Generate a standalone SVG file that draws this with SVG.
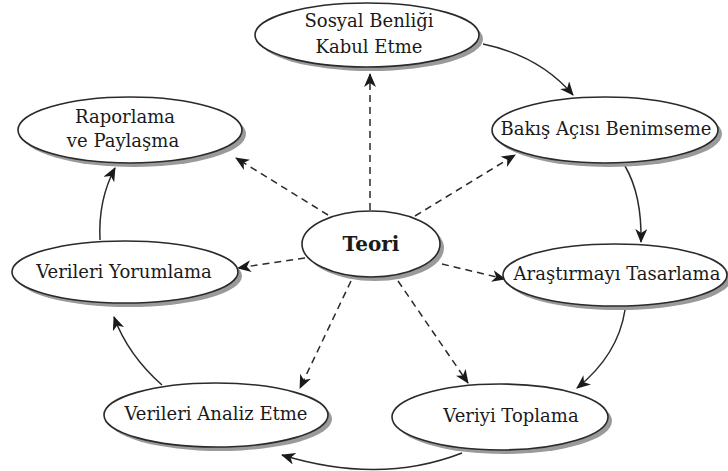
<svg xmlns="http://www.w3.org/2000/svg" width="728" height="471" viewBox="0 0 728 471">
<defs>
<marker id="ah" markerUnits="userSpaceOnUse" markerWidth="14" markerHeight="12" viewBox="0 0 14 12" refX="13" refY="6" orient="auto">
<path d="M0,0 L14,6 L0,12 L4,6 Z" fill="#1a1a1a"/>
</marker>
</defs>
<style>
.shadow{fill:#9a9a9a;stroke:none}
.node{fill:#fff;stroke:#2a2a2a;stroke-width:1.6}
.lbl{font-family:"DejaVu Serif","Liberation Serif",serif;font-size:18px;fill:#1a1a1a;text-anchor:middle}
.bold{font-weight:bold;font-size:20px}
.solid{fill:none;stroke:#2a2a2a;stroke-width:1.5;marker-end:url(#ah)}
.dash{fill:none;stroke:#2a2a2a;stroke-width:1.5;stroke-dasharray:7 5;marker-end:url(#ah)}
</style>
<rect width="728" height="471" fill="#fff"/>
<g id="connectors">
<path class="solid" d="M483,44 Q540,56 573,95"/>
<path class="solid" d="M625,166 Q642,195 641,242"/>
<path class="solid" d="M625,310 Q618,355 577,388"/>
<path class="solid" d="M462,453 Q380,485 282,455"/>
<path class="solid" d="M162,385 Q128,355 114,317"/>
<path class="solid" d="M100,240 Q98,200 115,168"/>
<path class="dash" d="M370,210 L370,74"/>
<path class="dash" d="M328,215 L236,158"/>
<path class="dash" d="M415,216 L515,155"/>
<path class="dash" d="M305,258 L238,268"/>
<path class="dash" d="M442,264 L505,279"/>
<path class="dash" d="M398,281 L468,383"/>
<path class="dash" d="M351,281 L300,388"/>
</g>
<g id="sosyal">
<ellipse class="shadow" cx="371" cy="39" rx="112" ry="32"/>
<ellipse class="node" cx="367" cy="35" rx="112" ry="32"/>
<text class="lbl" x="369" y="27">Sosyal Benliği</text>
<text class="lbl" x="369" y="53">Kabul Etme</text>
</g>
<g id="raporlama">
<ellipse class="shadow" cx="134" cy="134" rx="112" ry="33"/>
<ellipse class="node" cx="130" cy="130" rx="112" ry="33"/>
<text class="lbl" x="125" y="123">Raporlama</text>
<text class="lbl" x="123" y="147">ve Paylaşma</text>
</g>
<g id="bakis">
<ellipse class="shadow" cx="609" cy="134" rx="113" ry="33"/>
<ellipse class="node" cx="605" cy="130" rx="113" ry="33"/>
<text class="lbl" x="606" y="135">Bakış Açısı Benimseme</text>
</g>
<g id="teori">
<ellipse class="shadow" cx="375" cy="248" rx="69" ry="33"/>
<ellipse class="node" cx="371" cy="244" rx="69" ry="33"/>
<text class="lbl bold" x="371" y="251">Teori</text>
</g>
<g id="arastirma">
<ellipse class="shadow" cx="619" cy="279" rx="112" ry="31"/>
<ellipse class="node" cx="615" cy="275" rx="112" ry="31"/>
<text class="lbl" x="617" y="280">Araştırmayı Tasarlama</text>
</g>
<g id="yorumlama">
<ellipse class="shadow" cx="129" cy="276" rx="113" ry="31"/>
<ellipse class="node" cx="125" cy="272" rx="113" ry="31"/>
<text class="lbl" x="124" y="278">Verileri Yorumlama</text>
</g>
<g id="analiz">
<ellipse class="shadow" cx="220" cy="419" rx="112" ry="32"/>
<ellipse class="node" cx="216" cy="415" rx="112" ry="32"/>
<text class="lbl" x="216" y="420">Verileri Analiz Etme</text>
</g>
<g id="veriyi">
<ellipse class="shadow" cx="504" cy="421" rx="108" ry="33"/>
<ellipse class="node" cx="500" cy="417" rx="108" ry="33"/>
<text class="lbl" x="511" y="422">Veriyi Toplama</text>
</g>
</svg>
